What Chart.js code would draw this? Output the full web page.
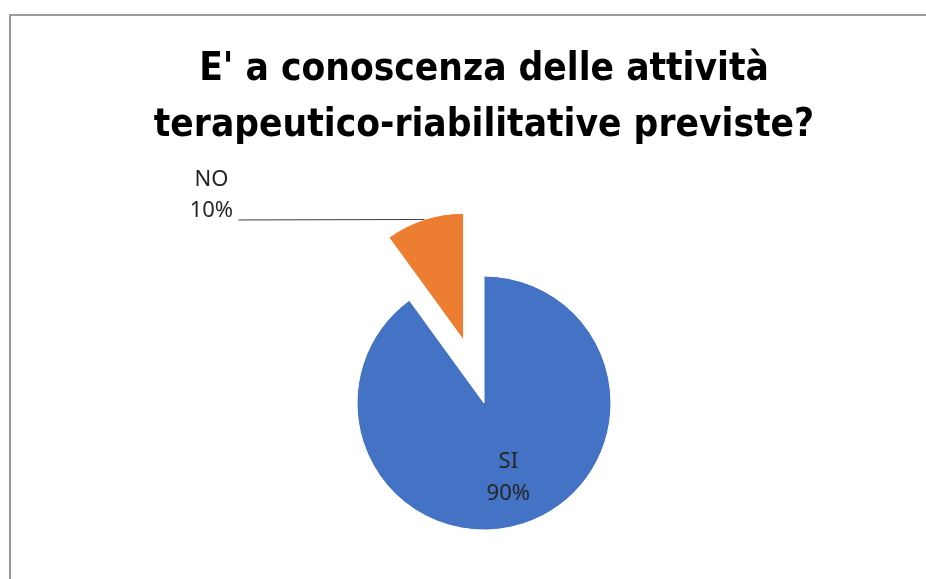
<!DOCTYPE html>
<html>
<head>
<meta charset="utf-8">
<script src="https://cdn.jsdelivr.net/npm/chart.js@4.4.1/dist/chart.umd.min.js"></script>
<style>
  html, body { margin: 0; padding: 0; background: #fff; overflow: hidden; }
  #frame {
    position: absolute; left: 9px; top: 14px; width: 1000px; height: 1000px;
    border-top: 2px solid #9a9a9a; border-left: 2px solid #9a9a9a;
  }
  #pie_chart { position: absolute; left: 0; top: 0; }
</style>
</head>
<body>
<div id="frame"></div>
<canvas id="pie_chart" width="926" height="645"></canvas>
<script>
var titleLines = ["E' a conoscenza delle attività", "terapeutico-riabilitative previste?"];
var categories = ["SI", "NO"];
var values = [90, 10];
var colors = ['#4472C4', '#ED7D31'];
var explode = [0, 66];          // how far each slice is pulled out, px
var outsideLabel = [false, true];

// pull exploded slices out along their middle angle
var explodePlugin = {
    id: 'explode',
    afterDatasetsUpdate: function (chart) {
        chart.getDatasetMeta(0).data.forEach(function (arc, i) {
            if (arc.$exploded) return;
            arc.$exploded = true;
            var baseDraw = arc.draw.bind(arc);
            arc.draw = function (ctx) {
                var shift = explode[i] || 0;
                var mid = (this.startAngle + this.endAngle) / 2;
                ctx.save();
                ctx.translate(Math.cos(mid) * shift, Math.sin(mid) * shift);
                baseDraw(ctx);
                ctx.restore();
            };
        });
    }
};

// Excel-like "name / percent" data labels
var labelPlugin = {
    id: 'sliceLabels',
    afterDatasetsDraw: function (chart) {
        var ctx = chart.ctx;
        var total = values.reduce(function (a, b) { return a + b; }, 0);
        ctx.save();
        ctx.font = '22px "Noto Sans", "Open Sans", sans-serif';
        ctx.fillStyle = '#262626';
        ctx.textAlign = 'center';
        ctx.textBaseline = 'middle';
        chart.getDatasetMeta(0).data.forEach(function (arc, i) {
            var mid = (arc.startAngle + arc.endAngle) / 2;
            var shift = explode[i] || 0;
            var pct = Math.round(values[i] / total * 100) + '%';
            if (outsideLabel[i]) {
                var r = arc.outerRadius + shift;
                var px = arc.x + Math.cos(mid) * r;
                var py = arc.y + Math.sin(mid) * r;
                ctx.strokeStyle = '#404040';
                ctx.lineWidth = 1;
                ctx.beginPath();
                ctx.moveTo(px, py);
                ctx.lineTo(px - 186, py + 0.5);
                ctx.stroke();
                ctx.fillText(categories[i], px - 213, py - 40);
                ctx.fillText(pct, px - 213, py - 9);
            } else {
                var ri = arc.outerRadius * 0.62 + shift;
                var cx = arc.x + Math.cos(mid) * ri;
                var cy = arc.y + Math.sin(mid) * ri;
                ctx.fillText(categories[i], cx, cy - 16);
                ctx.fillText(pct, cx, cy + 16);
            }
        });
        ctx.restore();
    }
};

new Chart(document.getElementById('pie_chart').getContext('2d'), {
    type: 'pie',
    data: {
        labels: categories,
        datasets: [{
            data: values,
            backgroundColor: colors,
            borderColor: '#ffffff',
            borderWidth: 1
        }]
    },
    options: {
        responsive: false,
        animation: false,
        events: [],
        radius: 127,
        layout: { padding: { left: 42, right: 0, top: 0, bottom: 3 } },
        plugins: {
            legend: { display: false },
            tooltip: { enabled: false },
            title: {
                display: true,
                text: titleLines,
                color: '#000000',
                font: { family: '"Liberation Sans Narrow", "DejaVu Sans Condensed", sans-serif', size: 38.5, weight: 'bold', lineHeight: 1.455 },
                padding: { top: 42, bottom: 10 }
            }
        }
    },
    plugins: [explodePlugin, labelPlugin]
});
</script>
</body>
</html>
